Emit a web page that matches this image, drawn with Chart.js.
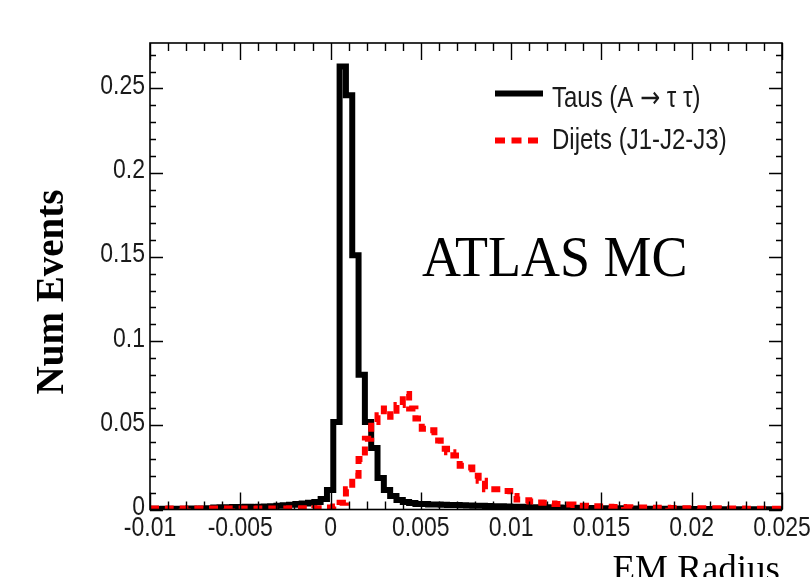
<!DOCTYPE html>
<html>
<head>
<meta charset="utf-8">
<script src="https://cdn.jsdelivr.net/npm/chart.js@4.4.1/dist/chart.umd.min.js"></script>
<style>
  html, body { margin: 0; padding: 0; background: #fff; }
  #wrap { position: relative; width: 810px; height: 577px; }
</style>
</head>
<body>
<div id="wrap"><canvas id="hist"></canvas></div>
<script>
const hist = document.getElementById("hist").getContext("2d");

/* binning: 100 bins from -0.01 to 0.025 */
const xMin = -0.01;
const xMax = 0.025;
const nBins = 100;
const yMax = 0.277;

const tausValues = [
  0.0004, 0.0003, 0.0004, 0.0005, 0.0004, 0.0005, 0.0006, 0.0005, 0.0006, 0.0008,
  0.0012, 0.0014, 0.0013, 0.0015, 0.0014, 0.0016, 0.0015, 0.0017, 0.0018, 0.002,
  0.0022, 0.0025, 0.0028, 0.0032, 0.0036, 0.004, 0.0045, 0.0062, 0.0116, 0.052,
  0.263, 0.246, 0.151, 0.08, 0.052, 0.0365, 0.0187, 0.0116, 0.008, 0.0057,
  0.0045, 0.0038, 0.0033, 0.0032, 0.003, 0.003, 0.0028, 0.0027, 0.0026, 0.0025,
  0.0024, 0.0023, 0.0022, 0.0021, 0.002, 0.0019, 0.0018, 0.0017, 0.0016, 0.0015,
  0.0014, 0.0013, 0.0013, 0.0012, 0.0012, 0.0011, 0.0011, 0.001, 0.001, 0.0009,
  0.0009, 0.0008, 0.0008, 0.0007, 0.0007, 0.0006, 0.0006, 0.0006, 0.0005, 0.0005,
  0.0005, 0.0004, 0.0004, 0.0004, 0.0004, 0.0003, 0.0003, 0.0003, 0.0003, 0.0003,
  0.0002, 0.0002, 0.0002, 0.0002, 0.0002, 0.0002, 0.0002, 0.0002, 0.0002, 0.0002,
];

const dijetsValues = [
  0.0006, 0.0006, 0.0005, 0.0006, 0.0006, 0.0005, 0.0006, 0.0006, 0.0005, 0.0006,
  0.0006, 0.0006, 0.0005, 0.0006, 0.0006, 0.0006, 0.0005, 0.0006, 0.0006, 0.0006,
  0.0006, 0.0006, 0.0007, 0.0006, 0.0007, 0.0007, 0.0008, 0.0008, 0.0012, 0.0018,
  0.004, 0.012, 0.02, 0.03, 0.042, 0.052, 0.056, 0.06, 0.055, 0.062,
  0.0686, 0.06, 0.054, 0.048, 0.047, 0.041, 0.036, 0.034, 0.032, 0.026,
  0.025, 0.02, 0.017, 0.012, 0.012, 0.012, 0.011, 0.008, 0.006, 0.0055,
  0.0048, 0.0042, 0.004, 0.0035, 0.0032, 0.003, 0.003, 0.0027, 0.0022, 0.002,
  0.0019, 0.0018, 0.0016, 0.0015, 0.0015, 0.0014, 0.0013, 0.0012, 0.0012, 0.0011,
  0.001, 0.001, 0.0009, 0.0009, 0.0008, 0.0008, 0.0008, 0.0007, 0.0007, 0.0007,
  0.0006, 0.0006, 0.0006, 0.0006, 0.0005, 0.0005, 0.0005, 0.0005, 0.0005, 0.0005,
];

const xTickValues = [-0.01, -0.005, 0, 0.005, 0.01, 0.015, 0.02, 0.025];
const xTickLabels = ["-0.01", "-0.005", "0", "0.005", "0.01", "0.015", "0.02", "0.025"];
const yTickValues = [0, 0.05, 0.1, 0.15, 0.2, 0.25];
const yTickLabels = ["0", "0.05", "0.1", "0.15", "0.2", "0.25"];
const seriesNames = ["Taus (A \u2192 \u03c4 \u03c4)", "Dijets (J1-J2-J3)"];

const binWidth = (xMax - xMin) / nBins;
const binEdges = Array.from({ length: nBins + 1 }, (_, i) => xMin + i * binWidth);

// step outline: one point per bin left edge, plus the closing edge
function histPoints(values) {
  const pts = values.map((v, i) => ({ x: binEdges[i], y: v }));
  pts.push({ x: xMax, y: values[values.length - 1] });
  return pts;
}

function drawText(ctx, str, x, y, font, align, baseline, sy) {
  ctx.save();
  ctx.translate(x, y);
  ctx.scale(1, sy);
  ctx.font = font;
  ctx.textAlign = align;
  ctx.textBaseline = baseline;
  ctx.fillText(str, 0, 0);
  ctx.restore();
}

// legend label where the arrow uses a font with a wider glyph
function drawLegendLabel(ctx, str, x, y) {
  const sans = '24px "Liberation Sans", Arial, sans-serif';
  const arrowFont = '24px "DejaVu Sans", sans-serif';
  const parts = str.split("\u2192");
  ctx.save();
  ctx.translate(x, y);
  ctx.scale(1, 1.2);
  ctx.textAlign = "left";
  ctx.textBaseline = "alphabetic";
  let cx = 0;
  parts.forEach((p, i) => {
    if (i > 0) {
      ctx.font = arrowFont;
      ctx.fillText("\u2192", cx, 0);
      cx += ctx.measureText("\u2192").width;
    }
    ctx.font = sans;
    ctx.fillText(p, cx, 0);
    cx += ctx.measureText(p).width;
  });
  ctx.restore();
}

/* ROOT style frame, ticks on all sides, labels, legend */
const rootFrame = {
  id: "rootFrame",
  afterDraw(chart) {
    const ctx = chart.ctx;
    const { left, right, top, bottom } = chart.chartArea;
    const xs = chart.scales.x;
    const ys = chart.scales.y;

    ctx.save();
    ctx.strokeStyle = "#000";
    ctx.lineWidth = 1.6;
    ctx.strokeRect(left, top, right - left, bottom - top);

    ctx.lineWidth = 1.4;
    ctx.beginPath();
    // x ticks, minor every 0.001
    for (let i = 0; i <= 35; i++) {
      const v = xMin + i * 0.001;
      const px = Math.round(xs.getPixelForValue(v)) + 0.5;
      const len = i % 5 === 0 ? 17 : 8;
      ctx.moveTo(px, bottom);
      ctx.lineTo(px, bottom - len);
      ctx.moveTo(px, top);
      ctx.lineTo(px, top + len);
    }
    // y ticks, minor every 0.01
    for (let i = 0; i <= 27; i++) {
      const v = i * 0.01;
      const py = Math.round(ys.getPixelForValue(v)) + 0.5;
      const len = i % 5 === 0 ? 13 : 6;
      ctx.moveTo(left, py);
      ctx.lineTo(left + len, py);
      ctx.moveTo(right, py);
      ctx.lineTo(right - len, py);
    }
    ctx.stroke();

    ctx.fillStyle = "#1a1a1a";
    const tickFont = '23px "Liberation Sans", Arial, sans-serif';
    xTickValues.forEach((v, i) => {
      drawText(ctx, xTickLabels[i], xs.getPixelForValue(v), bottom + 19, tickFont, "center", "middle", 1.2);
    });
    yTickValues.forEach((v, i) => {
      drawText(ctx, yTickLabels[i], left - 5, ys.getPixelForValue(v) - 2, tickFont, "right", "middle", 1.2);
    });

    // legend
    ctx.strokeStyle = "#000";
    ctx.lineWidth = 6;
    ctx.lineCap = "butt";
    ctx.beginPath();
    ctx.moveTo(495, 93.5);
    ctx.lineTo(543, 93.5);
    ctx.stroke();
    ctx.strokeStyle = "#ff0000";
    ctx.setLineDash([10, 6.5]);
    ctx.beginPath();
    ctx.moveTo(495, 140.5);
    ctx.lineTo(541, 140.5);
    ctx.stroke();
    ctx.setLineDash([]);
    drawLegendLabel(ctx, seriesNames[0], 552, 106.5);
    drawLegendLabel(ctx, seriesNames[1], 552, 149);

    // labels
    ctx.fillStyle = "#000";
    drawText(ctx, "ATLAS MC", 422, 276, '54px "Liberation Serif", "Times New Roman", serif', "left", "alphabetic", 1.04);
    drawText(ctx, "EM Radius", 780, 581, '37px "Liberation Serif", "Times New Roman", serif', "right", "alphabetic", 1);

    ctx.translate(63, 292);
    ctx.rotate(-Math.PI / 2);
    ctx.font = 'bold 39px "Liberation Serif", "Times New Roman", serif';
    ctx.textAlign = "center";
    ctx.textBaseline = "alphabetic";
    ctx.fillText("Num Events", 0, 0);
    ctx.restore();
  },
};

const histData = {
  datasets: [
    {
      label: seriesNames[0],
      data: histPoints(tausValues),
      borderColor: "#000",
      borderWidth: 6,
      borderJoinStyle: "miter",
      stepped: "before",
      pointRadius: 0,
      fill: false,
      order: 1,
    },
    {
      label: seriesNames[1],
      data: histPoints(dijetsValues),
      borderColor: "#ff0000",
      borderWidth: 6,
      borderDash: [9, 6],
      borderCapStyle: "butt",
      borderJoinStyle: "miter",
      stepped: "before",
      pointRadius: 0,
      fill: false,
      order: 0,
    },
  ],
};

const histOptions = {
  responsive: true,
  maintainAspectRatio: false,
  animation: false,
  layout: {
    padding: { left: 150, right: 28, top: 43, bottom: 67.5 },
  },
  scales: {
    x: { type: "linear", min: xMin, max: xMax, display: false },
    y: { type: "linear", min: 0, max: yMax, display: false },
  },
  plugins: {
    legend: { display: false },
    tooltip: { enabled: false },
  },
};

let histChart = new Chart(hist, {
  type: "line",
  data: histData,
  options: histOptions,
  plugins: [rootFrame],
});
</script>
</body>
</html>
